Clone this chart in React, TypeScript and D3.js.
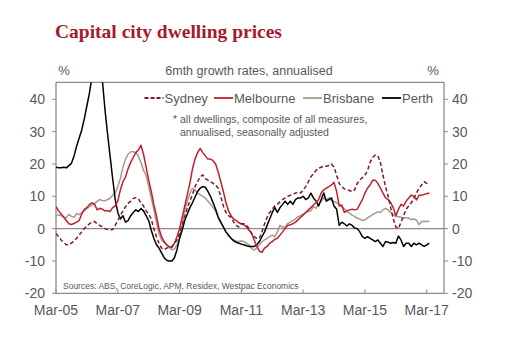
import React from "react";
import * as d3 from "d3";

// months since Mar-05 (index 0) to Apr-17 (index 145)
const sydney = [
  -1.5, -2.5, -3.5, -4.3, -5, -5, -4.5, -3.8, -3, -2, -1, 0, 0.8, 1.5, 2, 2.2, 1.5, 1, 0.5, 0, -0.3, -0.4, -0.3, 1, 2.5, 4, 5.5, 6.8, 7.8, 8.5,
  9.3, 9.6, 9.2, 8, 7, 5.5, 4.5, 3, 0, -2.5, -4.5, -6, -6.5, -6, -5.8, -5.6, -4.5, -3.5, -1.5, 1, 3.5, 6.5, 8.5, 10.5, 13, 14.5, 16, 16.6, 15.5, 15,
  14.5, 14, 13.5, 12.5, 10, 7, 5, 4, 3.5, 2, 1, 0.5, 1.5, 1.5, 1, 0, -1.5, -2.5, -3, -3, -1, 1.5, 3.5, 5, 6, 7, 7.5, 8.3, 9, 9.5,
  10, 10.3, 10.5, 11, 11.2, 11, 12, 13, 14.5, 16, 17, 18, 18.7, 19, 19.3, 19.3, 19.5, 20, 19, 16.5, 14, 13, 12.3, 12, 11.8, 11.4, 12, 14, 15, 15.8,
  16.5, 18, 20.5, 22, 22.8, 22.5, 20.5, 16.5, 13, 10, 6.5, 3, 0.5, 0, 2, 4, 6, 7, 8, 9.4, 11, 12.5, 13.5, 14.5, 14, 13.5,
];
const melbourne = [
  6.8, 5.5, 4.5, 3.5, 2.5, 1.5, 1.3, 1.6, 2, 2.5, 4.5, 6, 6.5, 7.5, 8, 7.5, 5.8, 6.3, 6, 5.5, 5.5, 5.3, 6.5, 7, 8.5, 12, 14.5, 16, 18.5, 20.5,
  22, 23.5, 24.3, 25.8, 23, 19, 15, 11.5, 7.5, 4, 0, -2.5, -4, -5, -5.6, -5.8, -4.5, -2.5, 0, 3.5, 7, 10.5, 14, 18.5, 21.5, 23.5, 24.8, 23.5, 22.5, 21.5,
  21.5, 21, 20, 17.5, 14.5, 11.5, 8, 5.5, 4, 3, 2.5, 1.8, 1.5, 1.2, 0.5, -0.5, -1.5, -3.5, -5.5, -7, -7.3, -6, -5.5, -4.5, -4, -3.3, -3, -2, -1, 0,
  1, 1.2, 1.5, 2, 2.7, 3.5, 4.2, 5, 5.8, 6.5, 7.3, 8, 9, 11, 12, 12.5, 13, 13.5, 14.3, 11.5, 7, 7.3, 5, 5.5, 5.8, 6, 5.8, 6, 7.5, 9,
  11, 12.5, 13.5, 15, 15, 14, 12.5, 11, 9.5, 9, 8, 6.5, 4, 6, 7.5, 7, 8.5, 9.5, 10.4, 10, 8.9, 10.3, 10.3, 10.6, 10.8, 11,
];
const brisbane = [
  4.2, 4.2, 4, 3.6, 3.4, 4.4, 3.8, 3.5, 4.7, 4.3, 5, 5.5, 6.2, 6.8, 7.3, 7.8, 8.4, 9, 8.7, 8.6, 9, 9.4, 10.3, 11, 13, 15.5, 19, 21.5, 23, 23.8,
  23.8, 23.5, 22.3, 20.5, 18, 16.5, 13, 9.5, 6, 2, -1.5, -3.5, -4.3, -5, -5.8, -6.5, -6.3, -5, -3, 1, 5.5, 8.5, 10.9, 12.5, 12, 11, 10.5, 10, 9.5, 8.5,
  7.5, 6.5, 5.5, 3.5, 2, 0.5, -1, -2.2, -3, -3.5, -3.8, -4, -3.8, -4, -4.5, -5, -6.2, -6.6, -6, -5, -4, -3.5, -3, -2.5, -2, -2.5, -1, 1, 0.5, 0.5,
  1.6, 2, 2.5, 3, 3.7, 4, 4.5, 5, 5.3, 5.5, 6.8, 6.3, 7.5, 8.5, 9.5, 8.8, 9.5, 8.7, 8.4, 8, 7.5, 6.8, 6.2, 5.3, 4.8, 4.2, 3.8, 3.2, 3, 2.5,
  2.7, 3.3, 3.8, 4.3, 4.8, 5.2, 5, 5.8, 6.3, 5.8, 5, 4.3, 3.8, 3.7, 3.5, 3.2, 3.4, 3.2, 2.8, 3, 2.6, 1.2, 2.2, 2.3, 2.2, 2.3,
];
const perth = [
  19, 18.8, 18.8, 19, 18.8, 19.5, 20.2, 22.5, 25.5, 28, 30.5, 34, 38, 42, 47, 52, 54, 52, 46, 37, 29.5, 22.5, 15.5, 9, 5, 3, 4, 2, 2.5, 4,
  5, 5.8, 5.3, 6.2, 5.5, 4, 2.5, -0.5, -3, -5, -6, -7.5, -9, -9.8, -10, -10, -9, -6.5, -3, -0.5, 2.5, 4.5, 6.5, 8, 9.8, 11.5, 12.5, 13, 12.8, 11.5,
  10, 8, 6, 3.5, 2, 0.5, -1, -2, -3, -3.8, -4.2, -4.5, -4.8, -5, -5.3, -5.5, -5.5, -5.5, -5, -4, -2.5, -1, 1, 3, 5, 6.5, 5, 6.5, 7.5, 8.5,
  7.5, 8.5, 7.5, 9, 9.5, 9.5, 10, 9, 9.5, 11, 9.5, 8.5, 7, 9, 11, 8.5, 9, 9.5, 7, 6, 1, 2, 1.5, 0.8, 1.5, 1, 0.2, 0, -1, -2.5,
  -3, -2.5, -3, -3.5, -4, -3.5, -4.5, -5.5, -4, -4.2, -4.5, -4.3, -4.5, -2.3, -3.5, -5.5, -4.5, -4.5, -5.5, -4.5, -5, -4.5, -5, -5.5, -5, -4.5,
];

const xTickMonths = [0, 24, 48, 72, 96, 120, 144];
const xTickLabels = ["Mar-05", "Mar-07", "Mar-09", "Mar-11", "Mar-13", "Mar-15", "Mar-17"];
const yTicks = [-20, -10, 0, 10, 20, 30, 40];
const seriesNames = ["Sydney", "Melbourne", "Brisbane", "Perth"];

const W = 529;
const H = 359;
const L = 56;
const R = 444;
const T = 82.3;
const B = 293.3;
const TEXT = "#595959";
const AXIS = "#8c8c8c";
const FONT = "Liberation Sans, Arial, sans-serif";

export default function App() {
  const x = d3.scaleLinear().domain([0, 150.7]).range([L, R]);
  const y = d3.scaleLinear().domain([-20, 40]).range([B, 99.3]);
  const line = d3
    .line<number>()
    .x((_, i) => x(i))
    .y((d) => y(d));

  const series = [
    { name: seriesNames[0], data: sydney, color: "#7d1a26", dash: "4,2.5", width: 1.5 },
    { name: seriesNames[1], data: melbourne, color: "#c11f2f", dash: null, width: 1.5 },
    { name: seriesNames[2], data: brisbane, color: "#a8998c", dash: null, width: 1.5 },
    { name: seriesNames[3], data: perth, color: "#000000", dash: null, width: 1.5 },
  ];
  const drawOrder = [2, 3, 1, 0];

  const legendX = [144.5, 214, 303, 382];

  return (
    <svg
      width={W}
      height={H}
      style={{ position: "absolute", left: 0, top: 0, background: "#fff" }}
      fontFamily={FONT}
    >
      <defs>
        <clipPath id="plot">
          <rect x={L} y={T} width={R - L} height={B - T} />
        </clipPath>
      </defs>
      <text
        x={55}
        y={38}
        fontFamily="Liberation Serif, Times New Roman, serif"
        fontWeight="bold"
        fontSize={19.5}
        fill="#a6192e"
      >
        Capital city dwelling prices
      </text>
      <text x={64} y={75} fontSize={13} fill={TEXT} textAnchor="middle">%</text>
      <text x={433} y={75} fontSize={13} fill={TEXT} textAnchor="middle">%</text>
      <text x={249} y={75} fontSize={12.5} fill={TEXT} textAnchor="middle">
        6mth growth rates, annualised
      </text>

      {/* zero line */}
      <line x1={L} x2={R} y1={y(0)} y2={y(0)} stroke={AXIS} strokeWidth={1.3} />

      {/* frame */}
      <line x1={L} x2={R} y1={T} y2={T} stroke={AXIS} strokeWidth={1.3} />
      <line x1={L} x2={L} y1={T} y2={B} stroke={AXIS} strokeWidth={1.3} />
      <line x1={R} x2={R} y1={T} y2={B} stroke={AXIS} strokeWidth={1.3} />
      <line x1={L} x2={R} y1={B} y2={B} stroke={AXIS} strokeWidth={1.3} />

      {yTicks.map((v) => (
        <g key={v}>
          <line x1={L - 4} x2={L} y1={y(v)} y2={y(v)} stroke={AXIS} strokeWidth={1} />
          <line x1={R} x2={R + 4} y1={y(v)} y2={y(v)} stroke={AXIS} strokeWidth={1} />
          <text x={45} y={y(v) + 5} fontSize={14} fill={TEXT} textAnchor="end">{v}</text>
          <text x={452} y={y(v) + 5} fontSize={14} fill={TEXT} textAnchor="start">{v}</text>
        </g>
      ))}
      {xTickMonths.map((m, i) => (
        <g key={m}>
          <line x1={x(m)} x2={x(m)} y1={B - 4} y2={B} stroke={AXIS} strokeWidth={1} />
          <text x={x(m)} y={315} fontSize={14} fill={TEXT} textAnchor="middle">{xTickLabels[i]}</text>
        </g>
      ))}

      <g clipPath="url(#plot)">
        {drawOrder.map((k) => {
          const s = series[k];
          return (
            <path
              key={s.name}
              d={line(s.data) || ""}
              fill="none"
              stroke={s.color}
              strokeWidth={s.width}
              strokeDasharray={s.dash || undefined}
              strokeLinejoin="round"
            />
          );
        })}
      </g>

      {/* legend */}
      {series.map((s, i) => (
        <g key={s.name}>
          <line
            x1={legendX[i]}
            x2={legendX[i] + 19}
            y1={98}
            y2={98}
            stroke={s.color}
            strokeWidth={1.8}
            strokeDasharray={s.dash ? "4,2" : undefined}
          />
          <text x={legendX[i] + 20} y={102.5} fontSize={13} fill={TEXT}>{s.name}</text>
        </g>
      ))}

      <text x={173} y={123} fontSize={10.5} fill={TEXT}>* all dwellings, composite of all measures,</text>
      <text x={180} y={136} fontSize={10.5} fill={TEXT}>annualised, seasonally adjusted</text>
      <text x={63} y={289} fontSize={8.5} fill={TEXT}>Sources: ABS, CoreLogic, APM, Residex, Westpac Economics</text>
    </svg>
  );
}
